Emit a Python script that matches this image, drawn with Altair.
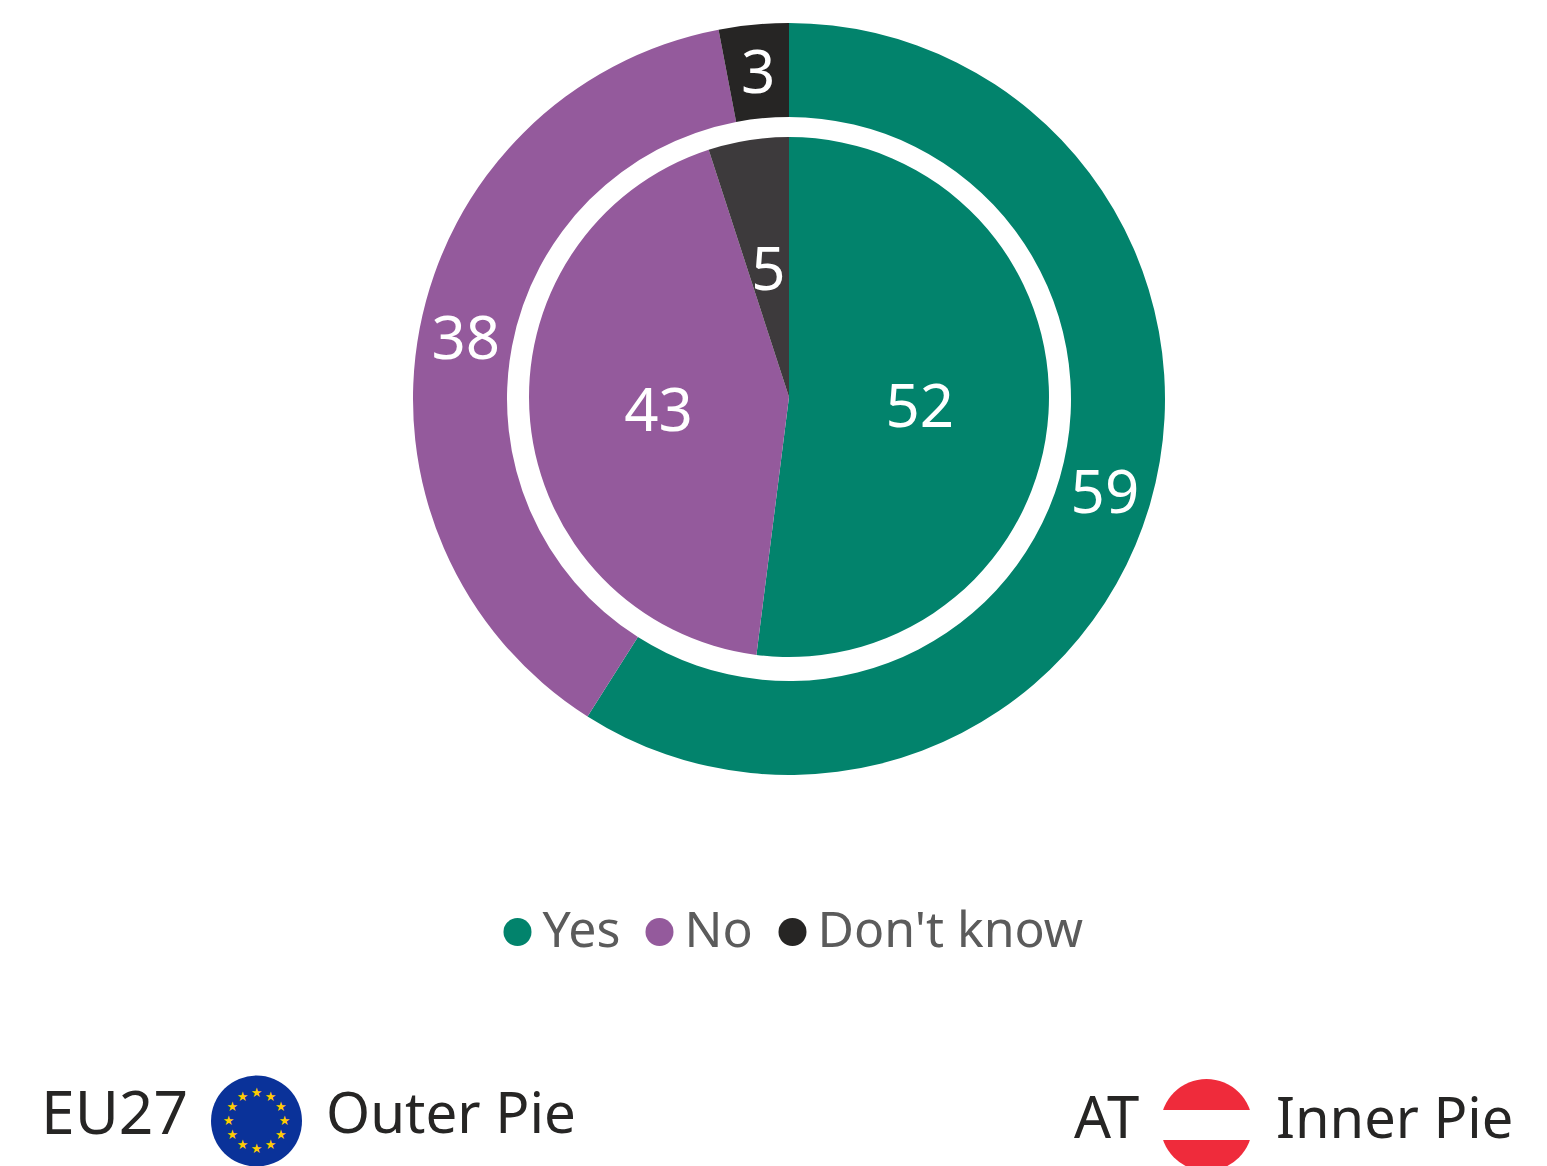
import altair as alt
import pandas as pd

ANSWERS = ["Yes", "No", "Don't know"]
ORDER = [0, 1, 2]
OUTER_VALUES = [59, 38, 3]   # EU27
INNER_VALUES = [52, 43, 5]   # AT
OUTER_COLORS = ["#02836c", "#945a9c", "#262524"]
INNER_COLORS = ["#02836c", "#945a9c", "#3d3a3c"]
STAR_ANGLES = [0, 30, 60, 90, 120, 150, 180, 210, 240, 270, 300, 330]

FONT = "Noto Sans"
CX, CY = 781, 391

outer = pd.DataFrame({"answer": ANSWERS, "order": ORDER, "value": OUTER_VALUES})
inner = pd.DataFrame({"answer": ANSWERS, "order": ORDER, "value": INNER_VALUES})
stars = pd.DataFrame({"angle": STAR_ANGLES})


def base(df, cy):
    return alt.Chart(df).encode(
        theta=alt.Theta("value:Q", stack=True, scale=alt.Scale(domain=[0, 100])),
        order=alt.Order("order:Q"),
        x=alt.value(CX),
        y=alt.value(cy),
    )


legend = alt.Legend(
    title=None, orient="none", legendX=484.5, legendY=899, direction="horizontal",
    symbolType="circle", symbolSize=784, symbolStrokeWidth=0, symbolOpacity=1,
    labelFont=FONT, labelFontSize=50, labelFontWeight=400, labelColor="#5b5b5b",
    labelOffset=0, columnPadding=14, labelLimit=400, padding=0,
)

outer_arc = base(outer, CY).mark_arc(radius=376, radius2=282).encode(
    color=alt.Color("answer:N", sort=ANSWERS,
                    scale=alt.Scale(domain=ANSWERS, range=OUTER_COLORS), legend=legend)
)
inner_arc = base(inner, CY - 2).mark_arc(radius=260).encode(
    color=alt.Color("answer:N", sort=ANSWERS,
                    scale=alt.Scale(domain=ANSWERS, range=INNER_COLORS), legend=None)
)


def value_labels(df, cy, radius):
    return base(df, cy).mark_text(
        radius=radius, font=FONT, fontSize=60, fontWeight=400, color="white",
        align="center", baseline="middle",
    ).encode(text=alt.Text("value:Q"), detail="answer:N")


def caption(text, x, y, size):
    return alt.Chart(pd.DataFrame({"t": [text]})).mark_text(
        font=FONT, fontSize=size, fontWeight=400, color="#262524", align="left", baseline="middle",
    ).encode(text="t:N", x=alt.value(x), y=alt.value(y))


def disk(color, x, y, r_size):
    return alt.Chart(pd.DataFrame({"a": [0]})).mark_point(
        filled=True, color=color, size=r_size, opacity=1, shape="circle",
    ).encode(x=alt.value(x), y=alt.value(y))


eu_stars = alt.Chart(stars).mark_text(
    text="★", font="DejaVu Sans", fontSize=13, color="#ffcc00", radius=28,
    align="center", baseline="middle",
).encode(
    theta=alt.Theta("angle:Q", scale=alt.Scale(domain=[0, 360], range=[0, 6.283185307])),
    x=alt.value(248.5), y=alt.value(1113),
)

at_band = alt.Chart(pd.DataFrame({"a": [0]})).mark_rect(color="white").encode(
    x=alt.value(1150), x2=alt.value(1248), y=alt.value(1102), y2=alt.value(1132),
)

pies = alt.layer(outer_arc, inner_arc).resolve_scale(color="independent")

chart = alt.layer(
    pies,
    value_labels(outer, CY + 4, 329),
    value_labels(inner, CY + 2, 131),
    caption("EU27", 33, 1108, 60.5),
    disk("#0a3299", 248.5, 1113, 8281),
    eu_stars,
    caption("Outer Pie", 318, 1108, 56.5),
    caption("AT", 1066, 1113, 58),
    disk("#ef2b3b", 1198.5, 1117, 8464),
    at_band,
    caption("Inner Pie", 1268, 1113, 56),
).resolve_scale(color="independent", theta="independent").properties(
    width=1531, height=1158, padding=0, autosize=alt.AutoSizeParams(type="none")
).configure_view(stroke=None).configure_axis(grid=False)

chart.save("out.html", embed_options={"renderer": "svg", "actions": False})
